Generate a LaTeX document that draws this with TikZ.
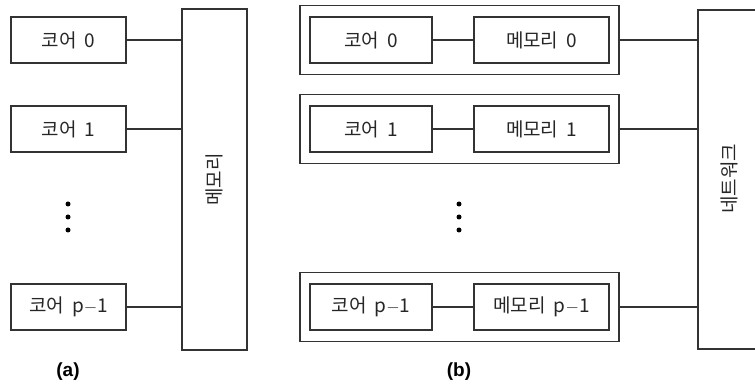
\documentclass[tikz,border=0pt]{standalone}
\usepackage{fontspec}
\setmainfont{Noto Sans CJK KR}
\newfontfamily\labelfont{Liberation Sans}
\newcommand{\gap}{\hspace{0.42em}}
\begin{document}
\begin{tikzpicture}[x=1pt,y=-1pt,
  line width=1.1pt,
  ink/.style={draw=black!80},
  txt/.style={font=\fontsize{19}{19}\selectfont, text=black!85},
  box/.style={ink, rectangle, inner sep=0pt, txt},
  vtxt/.style={txt, rotate=90},
  wire/.style={ink},
  dotmark/.style={circle, fill=black, inner sep=0pt, minimum size=5pt},
  caption/.style={font=\labelfont\bfseries\fontsize{19}{19}\selectfont}]
\useasboundingbox (0,0) rectangle (755,387);

% (a) shared memory
\foreach \i/\t/\y in {0/0/40, 1/1/129, 2/{p$-$1}/307}{
  \node[box, minimum width=115pt, minimum height=46pt] (ca\i) at (68.5,\y) {코어\gap\t};
}
\node[box, minimum width=65pt, minimum height=341pt] (mem) at (214.5,179.5) {};
\node[vtxt] (memtxt) at (mem.center) {메모리};
\foreach \i in {0,1,2}{
  \draw[wire] (ca\i.east) -- (ca\i.east -| mem.west);
}
\node[dotmark] (da1) at (68,204) {};
\node[dotmark] (da2) at (68,217) {};
\node[dotmark] (da3) at (68,230) {};
\node[caption] (capa) at (68,372) {(a)};

% (b) distributed memory
\foreach \i/\t/\y in {0/0/40, 1/1/129, 2/{p$-$1}/307}{
  \node[box, minimum width=319pt, minimum height=69pt] (grp\i) at (459.5,\y) {};
  \node[box, minimum width=122pt, minimum height=46pt] (cb\i) at (371,\y) {코어\gap\t};
  \node[box, minimum width=135pt, minimum height=46pt] (mb\i) at (541.5,\y) {메모리\gap\t};
  \draw[wire] (cb\i) -- (mb\i);
}
\node[box, minimum width=70pt, minimum height=339pt] (net) at (733,179.5) {};
\node[vtxt] (nettxt) at (729,179) {네트워크};
\foreach \i in {0,1,2}{
  \draw[wire] (grp\i.east) -- (grp\i.east -| net.west);
}
\node[dotmark] (db1) at (459,204) {};
\node[dotmark] (db2) at (459,217) {};
\node[dotmark] (db3) at (459,230) {};
\node[caption] (capb) at (459,372) {(b)};
\end{tikzpicture}
\end{document}
